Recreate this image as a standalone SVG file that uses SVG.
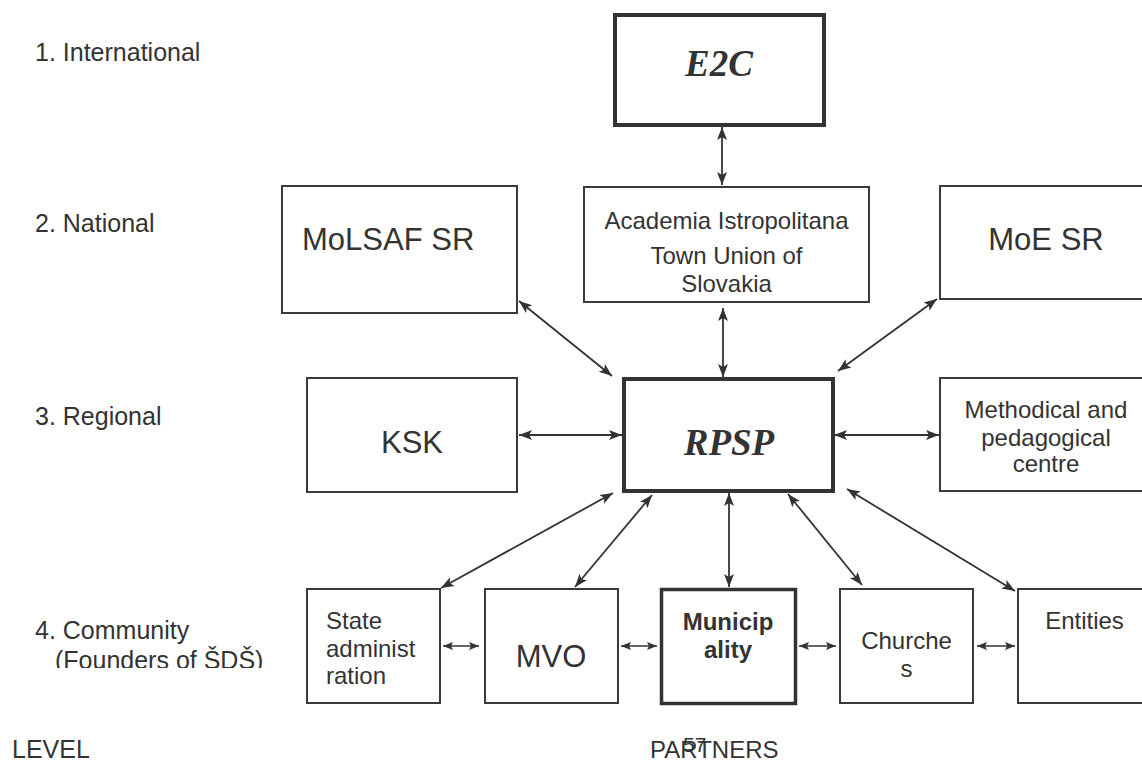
<svg xmlns="http://www.w3.org/2000/svg" width="1142" height="761" viewBox="0 0 1142 761">
<style>
.box{fill:#fff;stroke:#3a3a3a;stroke-width:2}
.thick{fill:#fff;stroke:#333;stroke-width:4}
.t{font-family:"Liberation Sans",Arial,sans-serif;fill:#333;font-size:24px}
.lv{font-size:25px}
.big{font-size:31px}
.c{text-anchor:middle}
.serif{font-family:"Liberation Serif","Times New Roman",serif;font-weight:bold;font-style:italic;font-size:37px;fill:#333;text-anchor:middle}
.con line{stroke:#333;stroke-width:1.8;marker-start:url(#ah);marker-end:url(#ah)}
.con line.s{marker-start:url(#ahs);marker-end:url(#ahs);stroke-width:1.6}
</style>
<defs>
<marker id="ah" markerUnits="userSpaceOnUse" markerWidth="14" markerHeight="12" refX="13" refY="5" orient="auto-start-reverse" viewBox="0 0 14 10">
<path d="M0,0 L13,5 L0,10 L3,5 z" fill="#333"/>
</marker>
<marker id="ahs" markerUnits="userSpaceOnUse" markerWidth="10" markerHeight="9" refX="10" refY="4" orient="auto-start-reverse" viewBox="0 0 10 8">
<path d="M0,0 L10,4 L0,8 L2,4 z" fill="#333"/>
</marker>
<clipPath id="clipF"><rect x="0" y="642" width="300" height="26"/></clipPath>
</defs>

<g id="levels">
<text class="t lv" x="35" y="61">1. International</text>
<text class="t lv" x="35" y="232">2. National</text>
<text class="t lv" x="35" y="425">3. Regional</text>
<text class="t lv" x="35" y="639">4. Community</text>
<text class="t lv" x="55" y="669" clip-path="url(#clipF)">(Founders of ŠDŠ)</text>
<text class="t lv" x="12" y="758">LEVEL</text>
<text class="t" x="650" y="758">PARTNERS</text>
<text class="t" x="683" y="752" style="font-size:21px">57</text>
</g>

<g id="connectors" class="con">
<line x1="722" y1="127" x2="722" y2="185"/>
<line x1="723" y1="308" x2="723" y2="377"/>
<line x1="519" y1="301" x2="612" y2="376"/>
<line x1="937" y1="299" x2="838" y2="371"/>
<line x1="519" y1="435" x2="622" y2="435"/>
<line x1="834" y1="435" x2="939" y2="435"/>
<line x1="613" y1="493" x2="441" y2="588"/>
<line x1="652" y1="495" x2="575" y2="587"/>
<line x1="729" y1="493" x2="729" y2="587"/>
<line x1="788" y1="494" x2="862" y2="585"/>
<line x1="847" y1="489" x2="1015" y2="591"/>
<line class="s" x1="443" y1="646" x2="479" y2="646"/>
<line class="s" x1="621" y1="646" x2="657" y2="646"/>
<line class="s" x1="799" y1="646" x2="836" y2="646"/>
<line class="s" x1="977" y1="646" x2="1015" y2="646"/>
</g>

<g id="e2c">
<rect class="thick" x="615" y="15" width="209" height="110"/>
<text class="serif" x="719" y="76">E2C</text>
</g>
<g id="molsaf">
<rect class="box" x="282" y="186" width="235" height="127"/>
<text class="t big" x="302" y="250">MoLSAF SR</text>
</g>
<g id="academia">
<rect class="box" x="584" y="187" width="285" height="115"/>
<text class="t c" x="726.5" y="229">Academia Istropolitana</text>
<text class="t c" x="726.5" y="264">Town Union of</text>
<text class="t c" x="726.5" y="292">Slovakia</text>
</g>
<g id="moe">
<rect class="box" x="940" y="186" width="215" height="113"/>
<text class="t big c" x="1046" y="250">MoE SR</text>
</g>
<g id="ksk">
<rect class="box" x="307" y="378" width="210" height="114"/>
<text class="t big c" x="412" y="453">KSK</text>
</g>
<g id="rpsp">
<rect class="thick" x="624" y="379" width="209" height="112"/>
<text class="serif" x="729" y="455">RPSP</text>
</g>
<g id="methodical">
<rect class="box" x="940" y="378" width="215" height="113"/>
<text class="t c" x="1046" y="418">Methodical and</text>
<text class="t c" x="1046" y="446">pedagogical</text>
<text class="t c" x="1046" y="472">centre</text>
</g>
<g id="state">
<rect class="box" x="307" y="589" width="133" height="114"/>
<text class="t" x="326" y="629">State</text>
<text class="t" x="326" y="657">administ</text>
<text class="t" x="326" y="684">ration</text>
</g>
<g id="mvo">
<rect class="box" x="485" y="589" width="133" height="114"/>
<text class="t big c" x="551" y="667">MVO</text>
</g>
<g id="municipality">
<rect class="thick" x="661.5" y="589.5" width="134" height="114" style="stroke-width:3.5"/>
<text class="t c" x="728" y="630" style="font-weight:bold">Municip</text>
<text class="t c" x="728" y="658" style="font-weight:bold">ality</text>
</g>
<g id="churches">
<rect class="box" x="840" y="589" width="133" height="114"/>
<text class="t c" x="906.5" y="649">Churche</text>
<text class="t c" x="906.5" y="677">s</text>
</g>
<g id="entities">
<rect class="box" x="1018" y="589" width="140" height="114"/>
<text class="t c" x="1084.5" y="629">Entities</text>
</g>
</svg>
